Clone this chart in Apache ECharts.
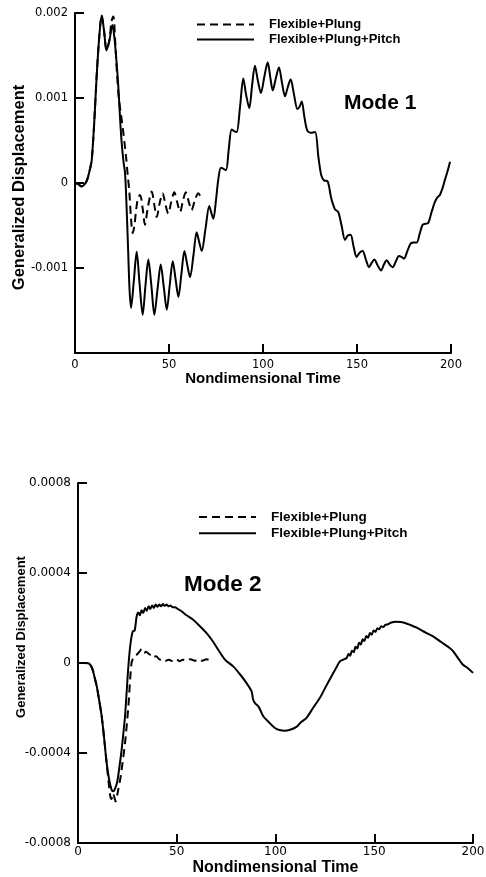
<!DOCTYPE html>
<html>
<head>
<meta charset="utf-8">
<script src="https://cdn.jsdelivr.net/npm/echarts@6/dist/echarts.min.js"></script>
<style>
html,body{margin:0;padding:0;background:#fff;}
#chart{width:486px;height:877px;}
</style>
</head>
<body>
<div id="chart"></div>
<script>
// ---------- DATA ----------
var seriesNames = ['Flexible+Plung', 'Flexible+Plung+Pitch'];
var panelTitles = ['Mode 1', 'Mode 2'];
var xTicks = [0, 50, 100, 150, 200];
var mode1YTicks = [-0.002, -0.001, 0, 0.001, 0.002];
var mode2YTicks = [-0.0008, -0.0004, 0, 0.0004, 0.0008];

// Mode 1: [time, generalized displacement]
var mode1PlungPitch = [
[0,0],[1.5,-0.00001],[3.5,-0.00004],[5,-0.00002],[6.5,0.00004],[7.8,0.00015],[8.9,0.00027],[10.3,0.00074],[11.5,0.00125],[12.9,0.00172],[14.2,0.00197],[15.4,0.0018],[16.8,0.00156],[18.3,0.00168],[19.9,0.00186],[21,0.0017],[22,0.00145],[23,0.00115],[24,0.00075],[24.8,0.00048],[25.8,0.00025],[26.6,0.00012],[27.3,-0.0002],[28.2,-0.00075],[29,-0.00125],[29.8,-0.00147],[31.3,-0.00115],[32.8,-0.00081],[34.4,-0.0012],[36,-0.00155],[37.5,-0.0012],[39,-0.0009],[40.6,-0.0012],[42.2,-0.00155],[43.9,-0.00125],[45.6,-0.00096],[47.2,-0.00122],[48.8,-0.00149],[50.4,-0.0012],[52,-0.00092],[53.5,-0.00113],[55,-0.00134],[56.6,-0.00107],[58.2,-0.0008],[59.7,-0.00096],[61.2,-0.00111],[63,-0.00085],[64.7,-0.00058],[66,-0.00069],[67.4,-0.0008],[69.4,-0.00054],[71.4,-0.00027],[72.5,-0.00035],[73.6,-0.00042],[75,-0.0002],[76.2,0.00004],[77.6,0.00018],[78.8,0.00017],[80.3,0.00015],[81.8,0.0004],[83.3,0.00063],[84.7,0.00061],[86,0.0006],[87.8,0.0009],[89.5,0.00123],[91,0.00104],[92.7,0.00088],[94.2,0.00115],[95.7,0.00138],[97.3,0.0012],[98.9,0.00106],[100.7,0.00125],[102.5,0.00142],[103.9,0.00124],[105.2,0.00109],[106.8,0.00123],[108.5,0.00136],[110.1,0.00118],[111.7,0.00102],[113.2,0.00113],[114.7,0.00122],[116.5,0.00104],[118.3,0.00087],[119.5,0.0009],[120.6,0.00096],[122,0.00078],[123.5,0.00062],[125.5,0.00059],[127.7,0.0006],[129.5,0.0003],[131,0.00009],[132.5,0.00003],[134.4,0.00002],[136.3,-0.00018],[138.3,-0.00031],[140,-0.00034],[141.8,-0.0005],[143.6,-0.00067],[145,-0.00062],[146.6,-0.00061],[148.2,-0.00075],[149.8,-0.00087],[151.4,-0.00082],[153,-0.0008],[154.7,-0.0009],[156.4,-0.00099],[157.8,-0.00094],[159.2,-0.0009],[161,-0.00097],[162.8,-0.00103],[164.3,-0.00096],[165.8,-0.00091],[167.4,-0.00096],[169,-0.00099],[170.7,-0.00092],[172.3,-0.00086],[173.6,-0.00087],[175,-0.00089],[176.8,-0.0008],[178.6,-0.00071],[180.2,-0.0007],[181.8,-0.0007],[183.3,-0.0006],[184.9,-0.00049],[186.4,-0.00048],[187.9,-0.00047],[189.7,-0.00034],[191.5,-0.00022],[192.8,-0.00017],[194.1,-0.00014],[195.5,-0.00006],[196.8,0.00004],[198.2,0.00014],[199.5,0.00025]
];
var mode1Plung = [
[0,0],[1.5,-0.00001],[3.5,-0.00004],[5,-0.00002],[6.5,0.00004],[7.8,0.00015],[8.9,0.00027],[10.3,0.00074],[11.5,0.00125],[12.9,0.00172],[14.2,0.00197],[15.4,0.0018],[16.8,0.00156],[18.3,0.00168],[19.4,0.0019],[20.4,0.00196],[21.3,0.0017],[22.3,0.0013],[23.3,0.001],[24.5,0.0008],[25.5,0.00063],[26.4,0.00046],[27.2,0.0003],[28,0.0001],[28.9,-0.0001],[29.8,-0.00042],[30.7,-0.00059],[31.6,-0.0005],[32.6,-0.0003],[33.6,-0.00017],[34.6,-0.00014],[36,-0.0003],[37.2,-0.00049],[38.8,-0.00028],[40.8,-0.0001],[42.2,-0.00026],[43.5,-0.0004],[45,-0.00024],[46.6,-0.00012],[48.1,-0.00025],[49.6,-0.00036],[51.2,-0.00022],[52.8,-0.00011],[54.4,-0.00023],[55.9,-0.00034],[57.4,-0.00021],[58.9,-0.00011],[60.5,-0.00022],[62,-0.00032],[63.8,-0.0002],[65.6,-0.00012],[66.8,-0.00016]
];

// Mode 2: [time, generalized displacement]
var mode2PlungPitch = [
[0,0],[3,0],[5.2,-0.000001],[7,-0.00002],[8.3,-0.00006],[9.5,-0.000104],[10.8,-0.00017],[12,-0.000237],[13.3,-0.00034],[14.5,-0.000444],[15.8,-0.00052],[17,-0.000563],[17.8,-0.00057],[18.7,-0.00056],[19.9,-0.000526],[21,-0.00046],[22.1,-0.000385],[23,-0.00031],[23.8,-0.000237],[24.7,-0.00012],[25.5,-0.000015],[26.5,0.00008],[27.7,0.00014],[28.7,0.000145],[29.7,0.000207],[30.5,0.000225],[31.3,0.000212],[32.2,0.000235],[33,0.000222],[34,0.000245],[34.8,0.000232],[35.8,0.000252],[36.6,0.00024],[37.6,0.000256],[38.4,0.000245],[39.4,0.00026],[40.2,0.00025],[41.2,0.00026],[42,0.000252],[43,0.000262],[43.8,0.000254],[44.8,0.00026],[45.8,0.000252],[46.8,0.000256],[47.8,0.000248],[49,0.000248],[50.5,0.00024],[52.4,0.00023],[55,0.000212],[58.3,0.000192],[61,0.00017],[65.1,0.000133],[68,0.0001],[71,0.000059],[74.4,0.000015],[78.6,-0.000015],[82,-0.00005],[85,-0.000085],[87.9,-0.000126],[88.6,-0.00016],[89.6,-0.000178],[91.5,-0.000195],[93.8,-0.000237],[96.5,-0.000262],[99.7,-0.000289],[102,-0.000298],[104.7,-0.000301],[107,-0.000298],[110.6,-0.000284],[113,-0.000262],[115.7,-0.000244],[119,-0.0002],[122.4,-0.000156],[125.5,-0.000105],[128.3,-0.00006],[130.5,-0.000025],[132.6,0.000007],[134.3,0.000015],[136,0.000022],[137,0.00004],[137.8,0.000032],[138.7,0.000055],[139.6,0.000048],[140.5,0.000072],[141.4,0.000064],[142.3,0.00009],[143.2,0.000082],[144.1,0.000106],[145,0.000098],[146,0.00012],[146.9,0.000112],[147.8,0.000133],[148.7,0.000126],[149.7,0.000145],[150.6,0.000138],[151.6,0.000155],[152.5,0.00015],[153.5,0.000163],[154.5,0.00016],[155.7,0.00017],[157,0.000172],[158.7,0.00018],[161,0.000183],[163.5,0.000182],[166,0.000177],[168,0.00017],[171.3,0.000158],[175,0.00014],[179.8,0.000118],[184,0.000092],[188.2,0.000067],[190,0.000052],[192.4,0.000022],[194.9,-0.000008],[197,-0.00002],[200,-0.000044]
];
var mode2Plung = [
[0,0],[3,0],[5.2,-0.000001],[7,-0.00002],[8.3,-0.00006],[9.5,-0.000104],[10.8,-0.00017],[12,-0.000237],[13.3,-0.00034],[14.5,-0.000444],[15.5,-0.00053],[16.3,-0.00059],[17,-0.000604],[17.8,-0.00058],[18.5,-0.0006],[19,-0.000615],[20,-0.00058],[21.6,-0.000504],[23.8,-0.000356],[25.5,-0.000193],[27.1,0],[28.5,0.00003],[29.5,0.000035],[31.2,0.000052],[32.2,0.000062],[33.5,0.000045],[34.5,0.00005],[36.4,0.000037],[37.5,0.00004],[38.5,0.000028],[39.5,0.00003],[41.5,0.000015],[43,0.00002],[44.5,0.00001],[46,0.000015],[48.2,0.000007],[50,0.000015],[51.5,0.000008],[53,0.000015],[55,0.00001],[57,0.000017],[59,0.00001],[61,0.000017],[63,0.00001],[65.1,0.000017],[67,0.000012],[68,0.000015]
];

// ---------- CHART ----------
var chart = echarts.init(document.getElementById('chart'), null, {renderer: 'canvas'});
var BOLD = 'Liberation Sans, Arial, sans-serif';
var TICKF = 'DejaVu Sans, sans-serif';

function xAxisCfg(grid, labelSize, margin, nameSize, nameGap) {
  return {
    type: 'value', gridIndex: grid, min: xTicks[0], max: xTicks[xTicks.length-1], interval: xTicks[1]-xTicks[0],
    axisLine: {show: true, onZero: false, lineStyle: {color: '#000', width: 2}},
    axisTick: {show: true, inside: true, length: 9, lineStyle: {color: '#000', width: 2}},
    axisLabel: {color: '#000', fontFamily: TICKF, fontSize: labelSize, margin: margin},
    splitLine: {show: false},
    name: 'Nondimensional Time', nameLocation: 'middle', nameGap: nameGap, nameMoveOverlap: false,
    nameTextStyle: {color: '#000', fontFamily: BOLD, fontWeight: 'bold', fontSize: nameSize}
  };
}
function yAxisCfg(grid, ticks, labelSize, nameSize, nameGap, pad, hideMin) {
  return {
    type: 'value', gridIndex: grid, min: ticks[0], max: ticks[ticks.length-1], interval: ticks[1]-ticks[0],
    axisLine: {show: true, onZero: false, lineStyle: {color: '#000', width: 2}},
    axisTick: {show: true, inside: true, length: 9, lineStyle: {color: '#000', width: 2}},
    axisLabel: {color: '#000', fontFamily: TICKF, fontSize: labelSize, margin: 7,
      formatter: function (v) {
        if (hideMin && Math.abs(v - ticks[0]) < 1e-12) return '';
        var s = parseFloat(v.toPrecision(6));
        return String(s);
      }},
    splitLine: {show: false},
    name: 'Generalized Displacement', nameLocation: 'middle', nameGap: nameGap, nameRotate: 90,
    nameMoveOverlap: false,
    nameTextStyle: {color: '#000', fontFamily: BOLD, fontWeight: 'bold', fontSize: nameSize, padding: pad}
  };
}
function lineSeries(name, xi, data, dashed) {
  return {
    name: name, type: 'line', xAxisIndex: xi, yAxisIndex: xi, data: data,
    symbol: 'none', smooth: 0.3, animation: false,
    lineStyle: {color: '#000', width: 2, type: dashed ? [8, 5] : 'solid'},
    itemStyle: {color: '#000'}
  };
}
function legendCfg(idx, left, top, gap, fsize) {
  return {
    data: seriesNames.map(function (n) { return {name: n}; }),
    orient: 'vertical', left: left, top: top, itemWidth: 57, itemHeight: 14, itemGap: gap,
    padding: 0, selectedMode: false,
    itemStyle: {opacity: 0},
    lineStyle: {color: '#000', width: 2},
    textStyle: {color: '#000', fontFamily: BOLD, fontWeight: 'bold', fontSize: fsize, padding: [0, 0, 0, 10]}
  };
}

var option = {
  backgroundColor: '#fff',
  animation: false,
  grid: [
    {left: 75, top: 13, width: 376, height: 340, outerBoundsMode: 'none', containLabel: false},
    {left: 78, top: 483, width: 395, height: 360, outerBoundsMode: 'none', containLabel: false}
  ],
  xAxis: [xAxisCfg(0, 11.5, 6, 15, 18), xAxisCfg(1, 12, 3, 16, 17)],
  yAxis: [
    yAxisCfg(0, mode1YTicks, 11.5, 16.5, 47, [0, 9, 0, 0], true),
    yAxisCfg(1, mode2YTicks, 12, 13, 50, [0, 0, 0, 52], false)
  ],
  legend: [legendCfg(0, 196, 18, 2, 13), legendCfg(1, 198, 510, 2.3, 13.5)],
  graphic: [
    {type: 'text', left: 344, top: 93, style: {text: panelTitles[0], font: 'bold 21px Liberation Sans', fill: '#000'}},
    {type: 'text', left: 184, top: 573, style: {text: panelTitles[1], font: 'bold 22.5px Liberation Sans', fill: '#000'}}
  ],
  series: [
    lineSeries(seriesNames[0], 0, mode1Plung, true),
    lineSeries(seriesNames[1], 0, mode1PlungPitch, false),
    lineSeries(seriesNames[0], 1, mode2Plung, true),
    lineSeries(seriesNames[1], 1, mode2PlungPitch, false)
  ]
};
chart.setOption(option);
</script>
</body>
</html>
